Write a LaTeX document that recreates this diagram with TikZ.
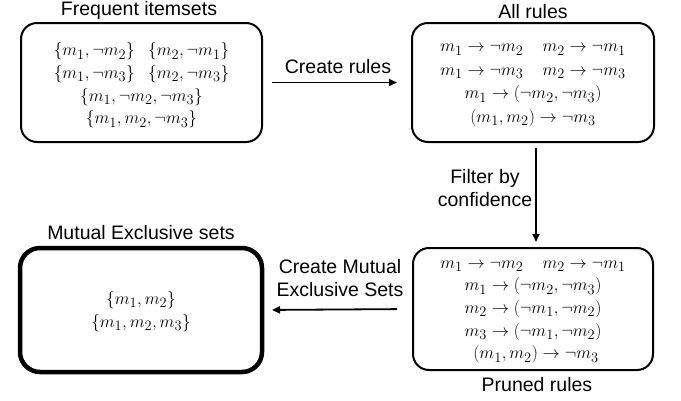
\documentclass[tikz,border=0pt]{standalone}
\usepackage{fontspec}
\setmainfont{Liberation Sans}
\usetikzlibrary{arrows.meta}
\begin{document}
\begin{tikzpicture}[x=1pt,y=-1pt,
  every node/.style={inner sep=0pt, outer sep=0pt},
  txt/.style={font=\fontsize{19.5}{23}\selectfont, align=center},
  mtxt/.style={font=\fontsize{19}{22.6}\selectfont, align=center},
  box/.style={draw, line width=2pt, rounded corners=16pt},
  arr/.style={line width=1.8pt, -{Triangle[length=8pt,width=7pt]}}]
\useasboundingbox (0,0) rectangle (681,400);

% boxes
\node[box, minimum width=241pt, minimum height=119pt] (fi) at (141.5,82.5) {};
\node[box, minimum width=242pt, minimum height=119pt] (ar) at (533,82.5) {};
\node[box, minimum width=240pt, minimum height=122pt] (pr) at (533,309) {};
\node[box, line width=4.5pt, rounded corners=20pt, minimum width=242pt,
  minimum height=124pt] (me) at (141,310) {};

% box contents
\node[mtxt] (fiT) at ([yshift=-3pt]fi.center)
  {$\{m_1,\neg m_2\}\hspace{0.7em}\{m_2,\neg m_1\}$\\
   $\{m_1,\neg m_3\}\hspace{0.7em}\{m_2,\neg m_3\}$\\
   $\{m_1,\neg m_2,\neg m_3\}$\\
   $\{m_1,m_2,\neg m_3\}$};
\node[mtxt] (arT) at ([yshift=-3pt]ar.center)
  {$m_1\rightarrow\neg m_2\quad m_2\rightarrow\neg m_1$\\[0.8pt]
   $m_1\rightarrow\neg m_3\quad m_2\rightarrow\neg m_3$\\[0.8pt]
   $m_1\rightarrow(\neg m_2,\neg m_3)$\\[0.8pt]
   $(m_1,m_2)\rightarrow\neg m_3$};
\node[mtxt] (prT) at ([yshift=-3pt]pr.center)
  {$m_1\rightarrow\neg m_2\quad m_2\rightarrow\neg m_1$\\
   $m_1\rightarrow(\neg m_2,\neg m_3)$\\
   $m_2\rightarrow(\neg m_1,\neg m_2)$\\
   $m_3\rightarrow(\neg m_1,\neg m_2)$\\
   \hspace{6pt}$(m_1,m_2)\rightarrow\neg m_3$};
\node[mtxt] (meT) at ([yshift=-1.5pt]me.center)
  {$\{m_1,m_2\}$\\ $\{m_1,m_2,m_3\}$};

% titles
\node[txt] (tfi) at (139,10) {Frequent itemsets};
\node[txt] (tar) at (533,12) {All rules};
\node[txt] (tme) at (141,233) {Mutual Exclusive sets};
\node[txt] (tpr) at (537,385) {Pruned rules};

% connectors
\draw[arr, shorten <=10pt, shorten >=15pt] (fi.east) -- (ar.west)
  node[txt, midway, above=9pt, xshift=1pt] (lcr) {Create rules};
\draw[arr, shorten <=6pt, shorten >=6pt] ([xshift=3pt]ar.south) -- ([xshift=3pt]pr.north);
\node[txt] (lfc) at (485,188.5) {Filter by\\confidence};
\draw[arr, shorten <=16pt, shorten >=10pt] (pr.west) -- (me.east);
\node[txt] (lcm) at (340,278.5) {Create Mutual\\Exclusive Sets};
\end{tikzpicture}
\end{document}
